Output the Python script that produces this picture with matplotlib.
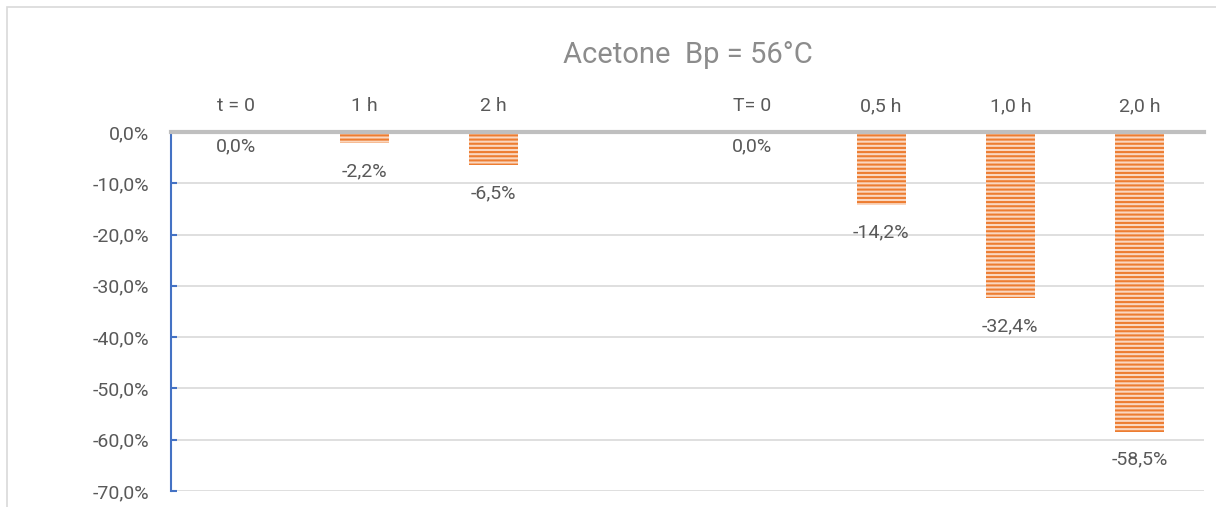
import numpy as np
import matplotlib
matplotlib.use("Agg")
import matplotlib.pyplot as plt
from matplotlib.patches import Rectangle
from matplotlib.ticker import FuncFormatter

plt.rcParams['font.family'] = ['Roboto', 'DejaVu Sans']
plt.rcParams['hatch.linewidth'] = 1.5

labels = ['t = 0', '1 h', '2 h', '', 'T= 0', '0,5 h', '1,0 h', '2,0 h']
values = [0.0, -2.2, -6.5, np.nan, 0.0, -14.2, -32.4, -58.5]

fig = plt.figure(figsize=(12.16, 5.07), dpi=100)
# chart area border
fig.patches.append(Rectangle((7/1216, -0.1), 1.5, 1.1 - 7/507, transform=fig.transFigure,
                             fill=False, edgecolor='#D9D9D9', linewidth=1.2))

ax = fig.add_axes([171/1216, 16/507, 1033/1216, 359/507])
x = np.arange(len(labels))
bars = ax.bar(x, values, width=0.38, color='#FAD7C0', edgecolor='#ED7D31',
              linewidth=0, hatch='----')

for xi, v in zip(x, values):
    if np.isnan(v):
        continue
    off = -10 if v == 0 else -20
    ax.annotate(f'{v:.1f}%'.replace('.', ','), (xi, v), xytext=(0, off),
                textcoords='offset points', ha='center', va='center',
                fontsize=14, color='#595959')

ax.set_xlim(-0.5, len(labels) - 0.5)
ax.set_ylim(-70, 0)
ax.set_yticks(np.arange(-70, 1, 10))
ax.yaxis.set_major_formatter(FuncFormatter(lambda v, p: f'{v:.1f}%'.replace('.', ',')))
ax.grid(axis='y', color='#D9D9D9', linewidth=1.2)
ax.set_axisbelow(True)

ax.xaxis.tick_top()
ax.set_xticks(x)
ax.set_xticklabels(labels)
ax.tick_params(axis='x', length=0, pad=12, labelsize=14, labelcolor='#595959')
ax.tick_params(axis='y', direction='in', length=4.5, width=1.5, color='#4472C4',
               pad=16, labelsize=14, labelcolor='#595959')

for s in ['right', 'bottom']:
    ax.spines[s].set_visible(False)
ax.spines['left'].set_color('#4472C4')
ax.spines['left'].set_linewidth(1.5)
ax.spines['top'].set_color('#BFBFBF')
ax.spines['top'].set_linewidth(3)
ax.spines['top'].set_zorder(5)

fig.text(687.5/1216, 1 - 55/507, 'Acetone  Bp = 56°C', ha='center', va='center',
         fontsize=21, color='#8C8C8C')

fig.savefig('out.png', dpi=100)
